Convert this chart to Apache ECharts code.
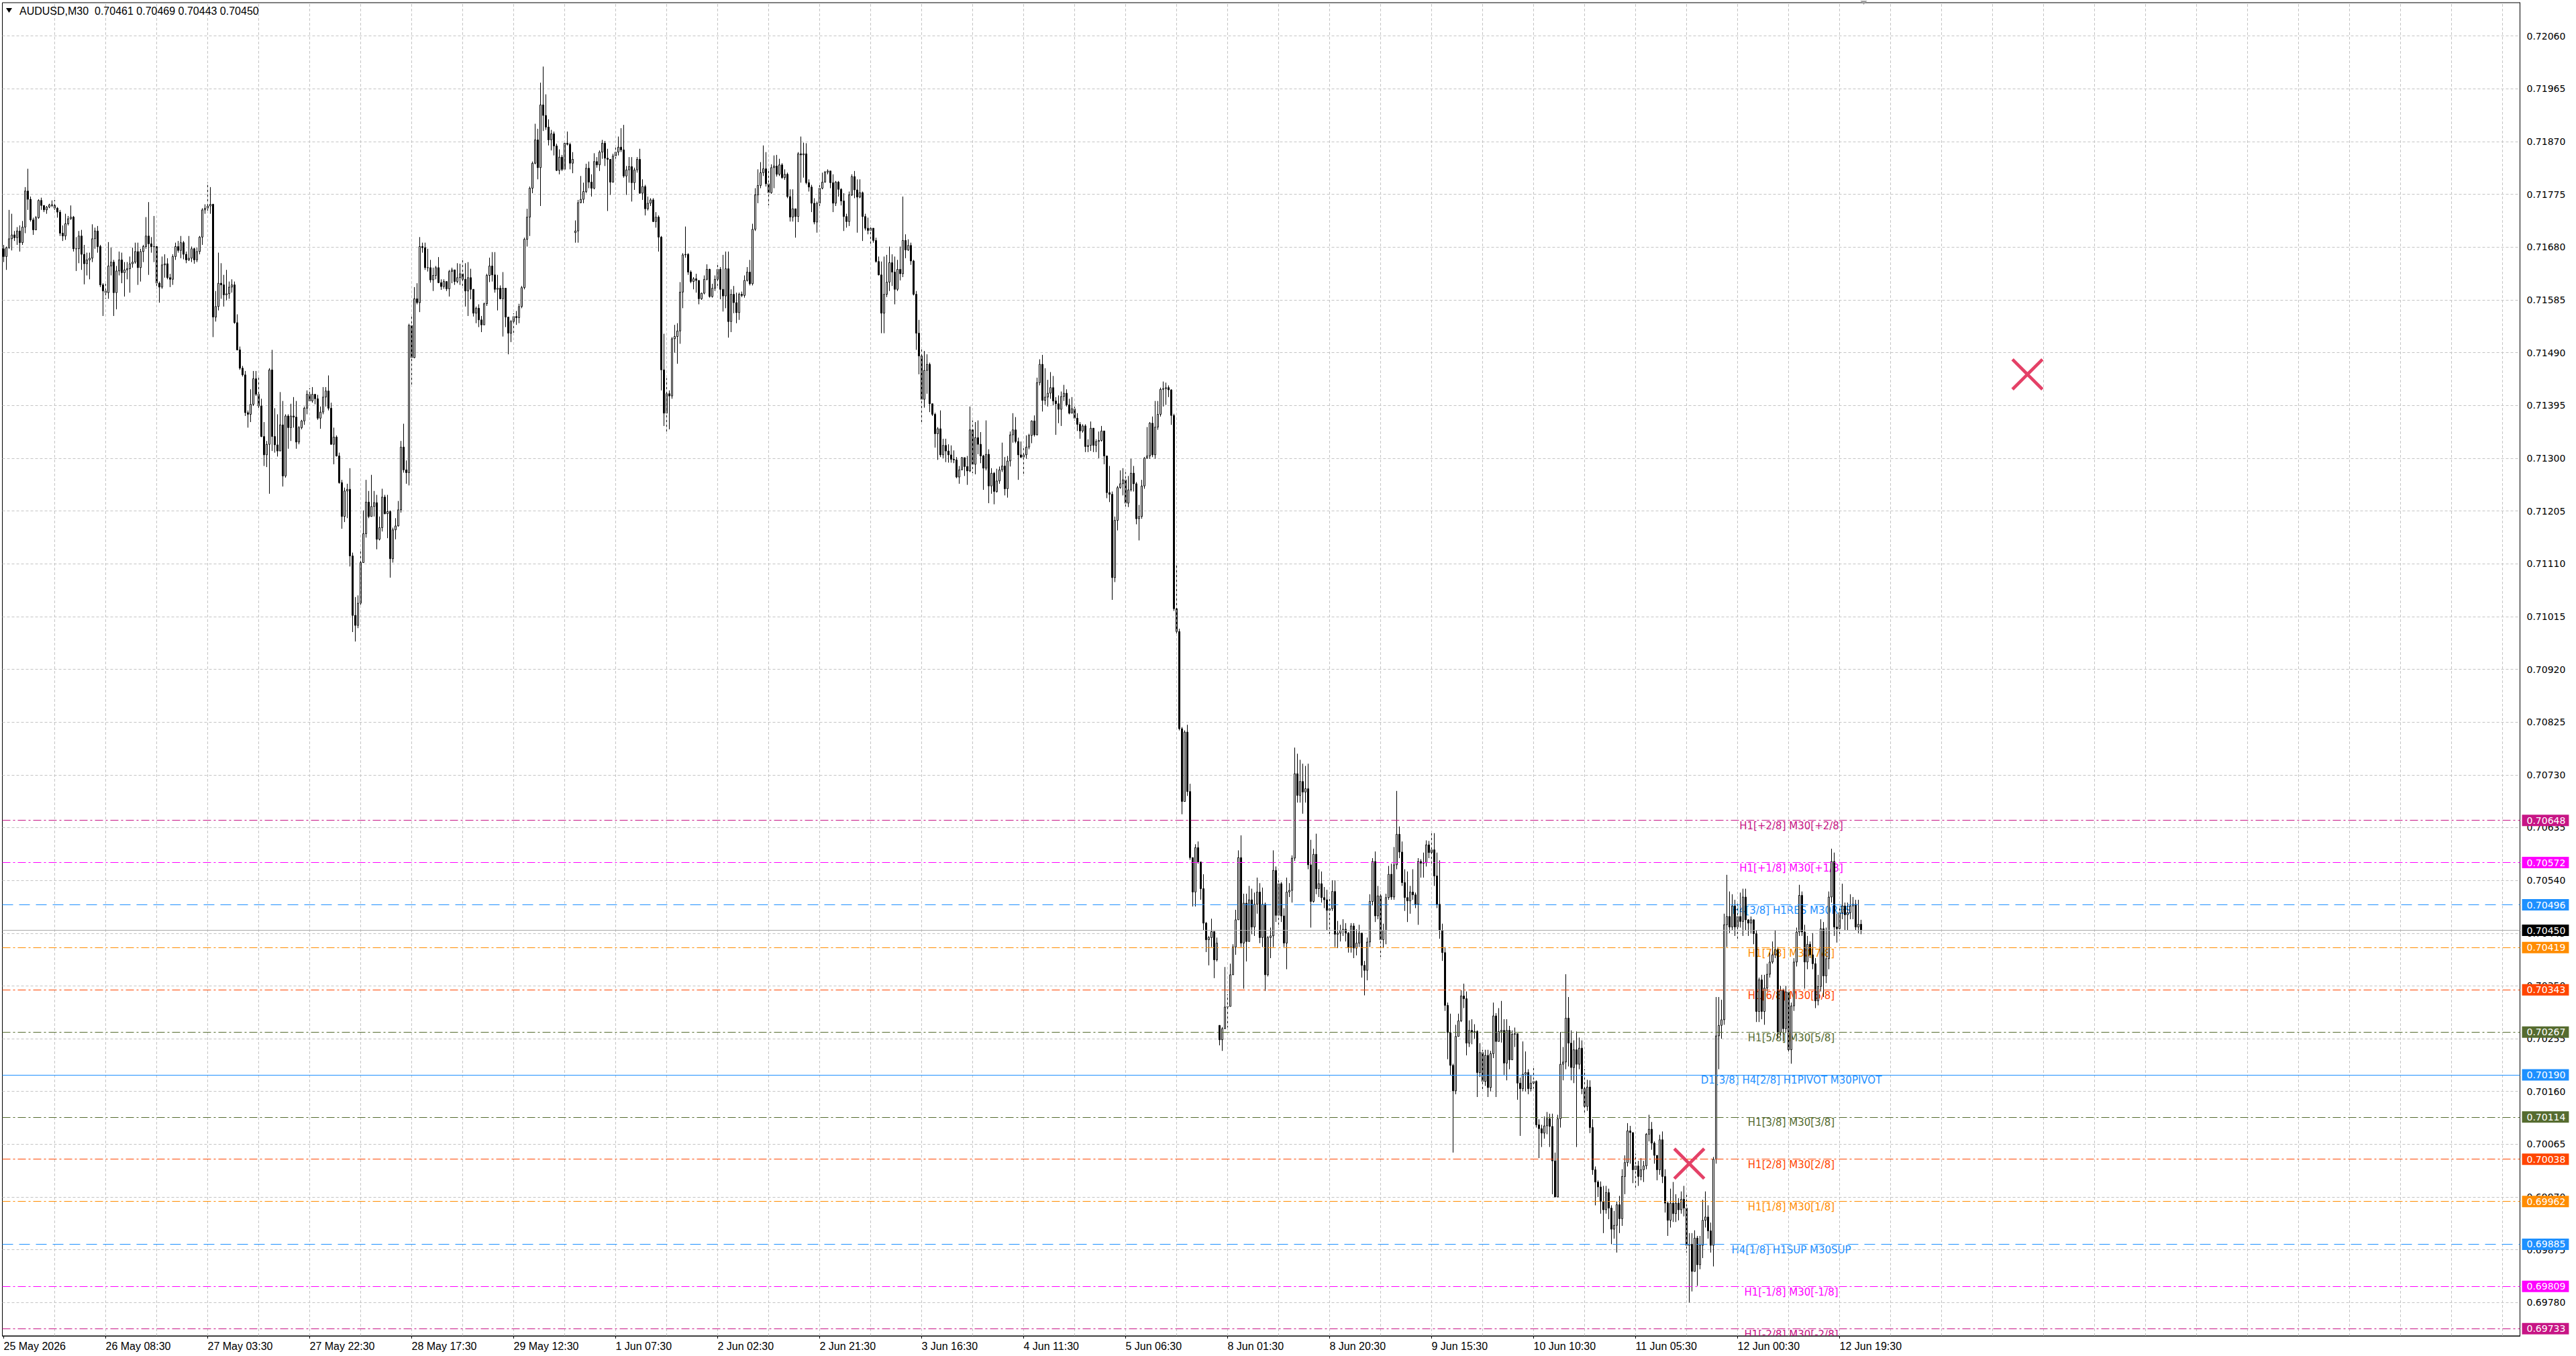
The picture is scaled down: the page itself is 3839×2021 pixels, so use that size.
<!DOCTYPE html>
<html>
<head>
<meta charset="utf-8">
<script src="https://cdn.jsdelivr.net/npm/echarts@6/dist/echarts.min.js"></script>
<style>
html,body{margin:0;padding:0;background:#ffffff;}
#c{width:3839px;height:2021px;}
</style>
</head>
<body>
<div id="c"></div>
<script>
// ---------------- DATA (prices in points, 1 point = 0.00001) ----------------
const symbolTitle = 'AUDUSD,M30';
const lastOHLC = ['0.70461', '0.70469', '0.70443', '0.70450'];

const timeLabels = ['25 May 2026', '26 May 08:30', '27 May 03:30', '27 May 22:30', '28 May 17:30',
  '29 May 12:30', '1 Jun 07:30', '2 Jun 02:30', '2 Jun 21:30', '3 Jun 16:30', '4 Jun 11:30',
  '5 Jun 06:30', '8 Jun 01:30', '8 Jun 20:30', '9 Jun 15:30', '10 Jun 10:30', '11 Jun 05:30',
  '12 Jun 00:30', '12 Jun 19:30'];

const yTicks = [72060, 71965, 71870, 71775, 71680, 71585, 71490, 71395, 71300, 71205, 71110,
  71015, 70920, 70825, 70730, 70635, 70540, 70445, 70350, 70255, 70160, 70065, 69970, 69875, 69780];

const closes = [
  // 25 May 13:30 ...
  71663,71679,71695,71702,71697,71709,71688,71716,71781,71766,
  71729,71711,71733,71764,71755,71747,71752,71756,71755,71750,
  71743,71705,71700,71722,71731,71734,71677,71677,71700,71667,
  71650,71657,71660,71695,71709,71681,71612,71601,71598,71646,
  71653,71598,71637,71657,71634,71639,71641,71650,71653,71672,
  71643,71672,71681,71700,71686,71681,71681,71615,71608,71648,
  71650,71625,71622,71663,71681,71674,71688,71667,71657,71660,
  71677,71657,71672,71698,71747,71750,71754,71757,71554,71573,
  71615,71612,71594,71596,71608,71612,71544,71495,71462,71450,
  71382,71379,71397,71443,71415,71394,71339,71306,71325,71459,
  71339,71324,71313,71360,71268,71376,71355,71376,71374,71329,
  71355,71367,71390,71415,71403,71415,71407,71372,71383,71410,
  71421,71390,71325,71338,71304,71256,71195,71241,71244,71124,
  71017,70999,71039,71112,71164,71221,71195,71213,71220,71154,
  71175,71230,71200,71204,71119,71171,71178,71207,71320,71279,
  71274,71539,71481,71587,71580,71681,71679,71643,71643,71621,
  71629,71643,71616,71609,71618,71605,71636,71639,71618,71625,
  71632,71622,71601,71625,
  // bar 174 ...
  71604,71561,71570,71549,71540,71578,71629,71646,71630,71604,
  71606,71587,71606,71554,71525,71546,71555,71553,71573,71607,
  71694,71734,71786,71831,71873,71823,71936,71917,71896,71873,
  71884,71862,71818,71842,71820,71867,71865,71831,71838,71709,
  71760,71766,71780,71822,71797,71786,71834,71828,71851,71867,
  71840,71838,71797,71844,71851,71860,71855,71808,71819,71825,
  71796,71819,71838,71777,71789,71749,71759,71765,71726,71734,
  71698,71459,71381,71416,71412,71515,71519,71529,71599,71666,
  71667,71635,71618,71623,71620,71587,71597,71622,71640,71591,
  71606,71622,71640,71604,71592,71641,71546,71595,71580,71562,
  71595,71593,71620,71635,71614,71712,71774,71791,71814,71821,
  71794,71778,71823,71826,71811,71828,71805,71811,71771,71734,
  71749,71735,71848,71846,71848,71796,71788,71759,71725,71759,
  71786,71797,71815,71817,71796,71759,71797,71784,71763,71735,
  71726,71774,71807,71783,71770,71778,71735,71714,71710,71714,
  71692,71654,71630,71561,71595,71617,71652,71635,71604,71640,
  71632,71692,71675,71683,71655,71595,71525,71484,71406,71458,
  71469,71398,71379,71344,71353,
  // bar 349 ...
  71306,71323,71313,71306,71298,71297,71266,71279,71301,71285,
  71277,71351,71289,71337,71325,71304,71282,71307,71250,71273,
  71240,71259,71279,71286,71245,71295,71342,71351,71330,71306,
  71302,71306,71320,71341,71367,71342,71436,71469,71404,71410,
  71417,71427,71403,71398,71388,71411,71417,71396,71381,71389,
  71372,71361,71349,71358,71321,71323,71354,71323,71330,71332,
  71349,71304,71238,71235,71085,71188,71247,71254,71261,71219,
  71243,71273,71254,71191,71195,71250,71300,71304,71363,71306,
  71356,71379,71424,71425,71427,71423,71377,71029,70988,70813,
  // bar 439 ...
  70682,70807,70700,70581,70519,70599,70573,70525,70463,70433,
  70437,70448,70397,70427,70253,70273,70312,70313,70370,70420,
  70469,70581,70427,70499,70430,70505,70456,70497,70519,70437,
  70497,70370,70437,70440,70558,70477,70534,70476,70427,70519,
  70522,70580,70732,70693,70718,70699,70705,70568,70502,70587,
  70525,70534,70509,70505,70486,70489,70520,70443,70445,70450,
  70452,70445,70420,70458,70418,70427,70445,70387,70378,70429,
  70502,70574,70476,70512,70433,70450,70509,70551,70510,70568,
  70623,70591,70536,70509,70503,70519,70514,70497,70574,70571,
  70572,70604,70590,70595,70548,70497,70450,70410,70315,70266,
  70207,70161,70259,70287,70332,70327,70247,70270,70266,70268,
  70194,70230,70178,70225,70167,70228,70296,70250,70268,70270,
  70211,70270,70217,70263,70264,70175,70165,70191,70194,70165,
  70175,70178,70100,70093,
  // bar 573 ...
  70085,
  70098,70111,70097,70035,69970,70111,70209,70213,70292,70247,
  70203,70235,70209,70238,70165,70133,70168,70095,70019,69997,
  69988,69962,69947,69978,69950,69912,69919,69956,69931,70007,
  70032,70089,70086,70019,70026,70007,70019,70026,70083,70092,
  70067,70045,70019,70073,70007,69959,69928,69959,69940,69959,
  69947,69966,69950,69883,69885,69836,69896,69848,69883,69928,
  69934,69909,69883,70038,70260,70279,70289,70460,70475,70456,
  70494,70456,70475,70466,70510,70469,70463,70469,70444,70304,
  70361,70304,70346,70371,70393,70406,70415,70266,70342,70273,
  70339,70235,70314,70393,70447,70513,70447,70393,70425,70406,
  70390,70323,70349,70453,70368,70399,70510,70574,70456,70453,
  70482,70494,70478,70482,70494,70497,70456,70461,70450
];

const highs = [
  71684,71681,71747,71740,71709,71716,71719,71727,71788,71821,
  71771,71733,71736,71766,71769,71755,71754,71758,71764,71765,
  71752,71747,71719,71740,71736,71755,71736,71698,71709,71711,
  71684,71670,71670,71721,71715,71718,71684,71615,71615,71689,
  71679,71657,71646,71672,71670,71653,71653,71663,71679,71688,
  71688,71677,71684,71734,71761,71698,71736,71684,71618,71663,
  71667,71660,71632,71667,71688,71691,71700,71691,71672,71700,
  71681,71679,71679,71700,71750,71757,71797,71788,71758,71601,
  71670,71651,71630,71639,71618,71622,71618,71559,71501,71466,
  71457,71386,71424,71457,71457,71447,71407,71365,71331,71462,
  71495,71390,71379,71419,71403,71379,71379,71398,71410,71403,
  71358,71369,71393,71422,71426,71428,71414,71414,71393,71428,
  71428,71449,71400,71355,71341,71310,71261,71247,71254,71282,
  71130,71050,71053,71136,71206,71261,71241,71270,71241,71234,
  71195,71245,71234,71234,71206,71175,71192,71223,71331,71362,
  71296,71542,71556,71608,71615,71698,71688,71688,71677,71657,
  71643,71646,71662,71622,71622,71615,71639,71643,71636,71651,
  71650,71657,71651,71653,
  71641,71604,71573,71577,71556,71580,71632,71661,71671,71671,
  71630,71611,71635,71604,71554,71549,71561,71565,71578,71610,
  71697,71749,71789,71834,71902,71893,71976,72005,71955,71910,
  71891,71888,71866,71856,71846,71868,71888,71868,71851,71728,
  71765,71808,71796,71830,71834,71811,71849,71842,71854,71873,
  71871,71857,71834,71848,71863,71879,71894,71900,71826,71842,
  71842,71823,71842,71857,71802,71792,71771,71768,71768,71743,
  71737,71700,71524,71444,71422,71518,71540,71543,71617,71669,
  71717,71669,71638,71626,71632,71620,71598,71629,71649,71641,
  71614,71629,71648,71644,71666,71672,71672,71604,71610,71598,
  71598,71600,71629,71644,71657,71722,71786,71820,71833,71863,
  71851,71820,71829,71845,71846,71839,71831,71820,71814,71784,
  71784,71740,71851,71879,71868,71867,71802,71792,71768,71762,
  71792,71814,71817,71820,71814,71811,71799,71799,71786,71777,
  71740,71780,71811,71817,71802,71802,71780,71740,71733,71720,
  71712,71697,71663,71654,71663,71666,71681,71667,71663,71657,
  71681,71771,71703,71694,71688,71657,71601,71549,71496,71493,
  71487,71472,71398,71382,71356,
  71386,71335,71335,71325,71323,71314,71302,71286,71302,71299,
  71304,71393,71368,71365,71368,71347,71306,71368,71316,71282,
  71275,71281,71285,71328,71302,71304,71348,71381,71374,71337,
  71330,71320,71341,71344,71368,71377,71445,71478,71486,71462,
  71441,71455,71448,71410,71413,71420,71432,71424,71407,71410,
  71393,71381,71365,71361,71361,71334,71366,71341,71334,71348,
  71358,71346,71302,71286,71240,71195,71250,71278,71282,71275,
  71268,71299,71286,71257,71216,71261,71302,71356,71365,71375,
  71403,71403,71427,71438,71436,71431,71424,71380,71111,70993,
  70816,70810,70820,70714,70578,70605,70610,70572,70551,70465,
  70440,70471,70446,70437,70279,70276,70384,70335,70390,70425,
  70487,70594,70621,70516,70516,70530,70525,70518,70545,70535,
  70527,70500,70440,70455,70594,70565,70540,70537,70490,70545,
  70535,70585,70779,70768,70757,70750,70746,70750,70613,70597,
  70624,70560,70556,70528,70523,70510,70540,70540,70467,70460,
  70470,70463,70447,70463,70463,70452,70460,70437,70395,70437,
  70515,70580,70592,70530,70520,70462,70516,70566,70570,70600,
  70701,70637,70610,70560,70556,70530,70560,70518,70580,70578,
  70590,70612,70611,70625,70625,70590,70576,70462,70420,70320,
  70300,70210,70280,70300,70342,70354,70340,70288,70290,70281,
  70270,70247,70235,70235,70235,70233,70320,70301,70310,70323,
  70290,70290,70278,70270,70275,70230,70185,70250,70232,70200,
  70190,70205,70180,70110,
  70100,
  70115,70123,70120,70120,70050,70118,70267,70240,70371,70330,
  70270,70252,70268,70257,70252,70200,70181,70180,70110,70025,
  70000,69998,69990,69990,69985,69955,69945,69962,69972,70020,
  70045,70103,70098,70070,70048,70035,70040,70035,70085,70118,
  70105,70070,70045,70082,70088,70020,69962,69985,69997,69975,
  69968,69980,69990,69975,69905,69905,69910,69900,69900,69965,
  69980,69955,69924,70042,70330,70330,70325,70480,70550,70520,
  70515,70505,70500,70518,70525,70525,70470,70475,70470,70450,
  70365,70370,70370,70390,70410,70430,70450,70420,70350,70345,
  70350,70340,70320,70400,70455,70532,70520,70460,70440,70430,
  70445,70400,70370,70470,70465,70455,70520,70597,70590,70480,
  70490,70534,70500,70500,70515,70510,70505,70505,70469
];

const lows = [
  71653,71639,71677,71674,71691,71684,71672,71684,71705,71747,
  71726,71702,71711,71731,71747,71743,71740,71750,71752,71747,
  71733,71700,71691,71693,71719,71729,71672,71637,71651,71639,
  71613,71629,71622,71653,71677,71670,71608,71556,71587,71587,
  71629,71556,71568,71629,71615,71591,71622,71598,71643,71650,
  71612,71618,71653,71677,71630,71670,71653,71605,71580,71605,
  71625,71622,71608,71612,71657,71670,71660,71658,71651,71655,
  71653,71650,71653,71667,71684,71740,71743,71740,71518,71546,
  71566,71587,71573,71584,71587,71598,71542,71494,71459,71447,
  71376,71355,71365,71394,71412,71388,71338,71286,71284,71236,
  71313,71310,71303,71338,71249,71265,71317,71331,71355,71317,
  71325,71352,71360,71379,71407,71400,71397,71369,71353,71379,
  71393,71386,71324,71289,71303,71254,71173,71185,71192,71105,
  70987,70970,70994,71036,71130,71157,71192,71199,71195,71136,
  71152,71168,71199,71156,71085,71112,71154,71177,71202,71274,
  71254,71251,71429,71480,71577,71563,71670,71639,71636,71616,
  71601,71622,71615,71603,71605,71601,71591,71615,71612,71615,
  71612,71608,71573,71556,
  71586,71555,71543,71536,71527,71540,71574,71617,71618,71598,
  71566,71586,71519,71536,71487,71509,71524,71540,71543,71570,
  71604,71681,71700,71777,71829,71802,71754,71889,71891,71863,
  71854,71845,71817,71811,71817,71817,71863,71820,71813,71688,
  71688,71759,71759,71777,71786,71771,71784,71823,71817,71839,
  71826,71745,71774,71796,71839,71845,71851,71805,71774,71796,
  71762,71783,71814,71776,71765,71737,71746,71754,71725,71715,
  71672,71422,71358,71344,71352,71407,71490,71470,71506,71570,
  71661,71630,71615,71604,71598,71577,71585,71595,71620,71589,
  71589,71601,71610,71586,71564,71570,71517,71527,71561,71543,
  71549,71590,71589,71618,71611,71611,71709,71759,71786,71808,
  71789,71755,71776,71786,71807,71808,71803,71801,71768,71726,
  71726,71697,71725,71796,71805,71793,71780,71743,71721,71706,
  71754,71784,71796,71811,71786,71743,71754,71771,71755,71709,
  71715,71718,71772,71768,71706,71768,71691,71710,71703,71686,
  71688,71652,71629,71525,71525,71590,71601,71610,71577,71601,
  71620,71626,71660,71673,71648,71593,71495,71451,71365,71391,
  71416,71383,71376,71319,71297,
  71302,71300,71293,71292,71292,71291,71264,71254,71282,71268,
  71252,71275,71273,71271,71307,71291,71243,71278,71219,71236,
  71217,71238,71254,71275,71233,71229,71285,71328,71327,71261,
  71300,71268,71299,71316,71327,71339,71341,71431,71384,71396,
  71393,71407,71395,71342,71363,71358,71403,71393,71379,71381,
  71368,71349,71335,71346,71311,71311,71313,71311,71311,71300,
  71330,71289,71228,71221,71045,71077,71170,71245,71233,71209,
  71212,71240,71240,71181,71152,71191,71245,71299,71299,71302,
  71299,71351,71375,71393,71396,71410,71360,71025,70983,70810,
  70659,70684,70692,70577,70493,70493,70570,70505,70450,70411,
  70387,70420,70364,70394,70243,70233,70282,70275,70313,70370,
  70406,70469,70420,70345,70394,70440,70443,70440,70480,70427,
  70420,70341,70367,70400,70420,70465,70455,70465,70420,70380,
  70510,70500,70575,70680,70680,70660,70680,70560,70455,70500,
  70515,70510,70500,70490,70450,70440,70485,70420,70418,70430,
  70440,70430,70410,70410,70400,70405,70420,70365,70333,70360,
  70420,70495,70465,70470,70402,70418,70425,70505,70505,70505,
  70560,70580,70530,70485,70465,70480,70505,70490,70460,70545,
  70545,70565,70580,70570,70530,70490,70435,70395,70305,70218,
  70190,70050,70155,70260,70285,70310,70225,70240,70245,70255,
  70150,70186,70160,70170,70150,70160,70220,70150,70260,70248,
  70190,70180,70200,70220,70240,70145,70080,70160,70160,70155,
  70160,70165,70095,70040,
  70060,
  70075,70083,70060,69975,69975,69990,70095,70180,70200,70205,
  70180,70175,70060,70200,70155,70120,70125,70085,70010,69955,
  69970,69940,69905,69940,69930,69885,69895,69870,69905,69918,
  69975,70025,70030,69995,69985,69990,70000,69997,70020,70070,
  70055,70030,70000,70010,69995,69942,69900,69915,69925,69925,
  69928,69940,69935,69870,69780,69800,69840,69810,69840,69860,
  69915,69895,69870,69845,70030,70200,70255,70280,70420,70445,
  70450,70440,70435,70455,70440,70450,70440,70445,70425,70285,
  70285,70290,70280,70340,70365,70390,70400,70255,70262,70250,
  70265,70228,70210,70305,70385,70440,70440,70345,70380,70400,
  70380,70310,70315,70340,70330,70355,70380,70500,70440,70428,
  70440,70470,70450,70450,70470,70470,70450,70445,70443
];

// opening price of bars that open away from the previous close (week opens)
const gapOpens = [[0, 71677], [213, 71706], [453, 70279]];

const levelPrices = [70648, 70572, 70496, 70419, 70343, 70267, 70190, 70114, 70038, 69962, 69885, 69809, 69733];
const levelNames = ['H1[+2/8] M30[+2/8]', 'H1[+1/8] M30[+1/8]', 'H4[3/8] H1RES M30RES',
  'H1[7/8] M30[7/8]', 'H1[6/8] M30[6/8]', 'H1[5/8] M30[5/8]', 'D1[3/8] H4[2/8] H1PIVOT M30PIVOT',
  'H1[3/8] M30[3/8]', 'H1[2/8] M30[2/8]', 'H1[1/8] M30[1/8]', 'H4[1/8] H1SUP M30SUP',
  'H1[-1/8] M30[-1/8]', 'H1[-2/8] M30[-2/8]'];
const currentPrice = 70450;

// cross markers: [bar index, price]
const crossMarks = [[628, 70030], [754, 71451]];

// ---------------- STYLES / LAYOUT ----------------
const DASHDOT = [12, 4, 3, 4];
const DASH = [16, 9];
const levelStyles = [
  {color: '#C71585', type: DASHDOT},
  {color: '#FF00FF', type: DASHDOT},
  {color: '#1E90FF', type: DASH},
  {color: '#FF8C00', type: DASHDOT},
  {color: '#FF4500', type: DASHDOT},
  {color: '#556B2F', type: DASHDOT},
  {color: '#1E90FF', type: 'solid'},
  {color: '#556B2F', type: DASHDOT},
  {color: '#FF4500', type: DASHDOT},
  {color: '#FF8C00', type: DASHDOT},
  {color: '#1E90FF', type: DASH},
  {color: '#FF00FF', type: DASHDOT},
  {color: '#C71585', type: DASHDOT}
];
const SLOTS = 938;          // visible bar slots (chart shifted, future area on the right)
const LABEL_STEP = 38;      // time label every 38 bars
const GRID_STEP = 19;       // vertical grid every 19 bars
const LEVEL_TEXT_BAR = 666; // where MT4 drew the level captions
const SHIFT_MARK_BAR = 693;
const TXT_FONT = '"Liberation Sans", Arial, sans-serif';
const NUM_FONT = '"DejaVu Sans", Verdana, sans-serif';
const GRID_COLOR = '#c4c4c4';

// ---------------- BUILD ----------------
const gapMap = {};
gapOpens.forEach(g => { gapMap[g[0]] = g[1]; });
const candles = closes.map((c, i) => {
  const o = (i in gapMap) ? gapMap[i] : closes[i - 1];
  const h = Math.max(highs[i], o, c);
  const l = Math.min(lows[i], o, c);
  return [o, c, l, h];
});
const cats = Array.from({length: SLOTS}, (_, i) => String(i));
const labelAt = (idx) => idx % LABEL_STEP === 0 && idx / LABEL_STEP < timeLabels.length;

const chart = echarts.init(document.getElementById('c'), null, {renderer: 'svg'});

// vertical grid lines through bar positions (as MT4 draws them)
const vGrid = [];
for (let i = GRID_STEP; i < SLOTS; i += GRID_STEP) {
  vGrid.push({xAxis: i, label: {show: false}, lineStyle: {color: GRID_COLOR, type: [4, 3], width: 1}});
}

const markLineData = levelPrices.map((p, i) => ({
  yAxis: p,
  lineStyle: {color: levelStyles[i].color, type: levelStyles[i].type, width: 1},
  label: {
    show: true, position: 'end', distance: 3,
    formatter: (p / 1e5).toFixed(5),
    color: '#ffffff', backgroundColor: levelStyles[i].color,
    padding: [2, 5, 1, 7], fontFamily: NUM_FONT, fontSize: 14
  }
}));
markLineData.push({
  yAxis: currentPrice,
  lineStyle: {color: '#a8a8a8', type: 'solid', width: 1},
  label: {
    show: true, position: 'end', distance: 3,
    formatter: (currentPrice / 1e5).toFixed(5),
    color: '#ffffff', backgroundColor: '#000000',
    padding: [2, 5, 1, 7], fontFamily: NUM_FONT, fontSize: 14
  }
});

const option = {
  animation: false,
  backgroundColor: '#ffffff',
  title: {
    text: symbolTitle + '  ' + lastOHLC.join(' '),
    left: 29, top: 8, padding: 0,
    textStyle: {fontFamily: TXT_FONT, fontSize: 16, fontWeight: 'normal', color: '#000'}
  },
  graphic: [{
    type: 'polygon', id: 'menuTri',
    shape: {points: [[9, 12], [18, 12], [13.5, 19]]},
    style: {fill: '#000'}
  }],
  grid: {
    left: 3.5, top: 4, width: 3752, height: 1987,
    show: true, borderColor: '#000', borderWidth: 1, backgroundColor: '#fff'
  },
  xAxis: {
    type: 'category', data: cats, boundaryGap: true,
    axisLine: {show: true, lineStyle: {color: '#000', width: 1}},
    axisTick: {show: true, alignWithLabel: true, interval: labelAt, length: 4, lineStyle: {color: '#000'}},
    axisLabel: {
      show: true, interval: labelAt, align: 'left', margin: 7,
      formatter: (v, idx) => timeLabels[Math.round(Number(v) / LABEL_STEP)] || '',
      fontFamily: TXT_FONT, fontSize: 16, color: '#000'
    },
    splitLine: {show: false}
  },
  yAxis: {
    type: 'value', position: 'right', min: 69720, max: 72120, scale: true,
    axisLine: {show: true, lineStyle: {color: '#000'}},
    axisTick: {show: false, customValues: yTicks},
    axisLabel: {
      show: true, customValues: yTicks, margin: 10,
      formatter: v => (v / 1e5).toFixed(5),
      fontFamily: NUM_FONT, fontSize: 14, color: '#000'
    },
    splitLine: {show: true, lineStyle: {color: GRID_COLOR, type: [4, 3], width: 1}}
  },
  series: [
    {
      type: 'line', name: 'grid', data: [], z: 0, silent: true,
      markLine: {symbol: 'none', silent: true, animation: false, data: vGrid}
    },
    {
      type: 'line', name: 'levels', data: [], z: 1, silent: true,
      markLine: {symbol: 'none', silent: true, animation: false, data: markLineData}
    },
    {
      type: 'custom', name: 'levelText', z: 1, clip: true, silent: true,
      data: levelPrices.map((p, i) => [LEVEL_TEXT_BAR, p, i]),
      renderItem: (params, api) => {
        const pt = api.coord([api.value(0), api.value(1)]);
        const i = api.value(2);
        return {
          type: 'text', x: pt[0], y: pt[1] + 1,
          style: {
            text: levelNames[i], fill: levelStyles[i].color,
            font: '15px ' + NUM_FONT, align: 'center', verticalAlign: 'top'
          }
        };
      }
    },
    {
      type: 'candlestick', name: 'AUDUSD', data: candles, z: 3,
      large: false, barWidth: 2,
      itemStyle: {color: '#ffffff', color0: '#000000', borderColor: '#000000', borderColor0: '#000000', borderWidth: 1}
    },
    {
      type: 'scatter', name: 'marks', data: crossMarks, z: 5, silent: true,
      symbol: 'path://M7,0 L50,43 L93,0 L100,7 L57,50 L100,93 L93,100 L50,57 L7,100 L0,93 L43,50 L0,7 Z',
      symbolSize: 48,
      itemStyle: {color: '#E3375F', opacity: 0.95}
    }
  ]
};
chart.setOption(option);

const sx = chart.convertToPixel({xAxisIndex: 0}, SHIFT_MARK_BAR);
chart.setOption({
  graphic: [{
    type: 'polygon', id: 'shiftTri',
    shape: {points: [[sx - 5, 1], [sx + 5, 1], [sx, 7]]},
    style: {fill: '#a0a0a0'}
  }]
});
</script>
</body>
</html>
